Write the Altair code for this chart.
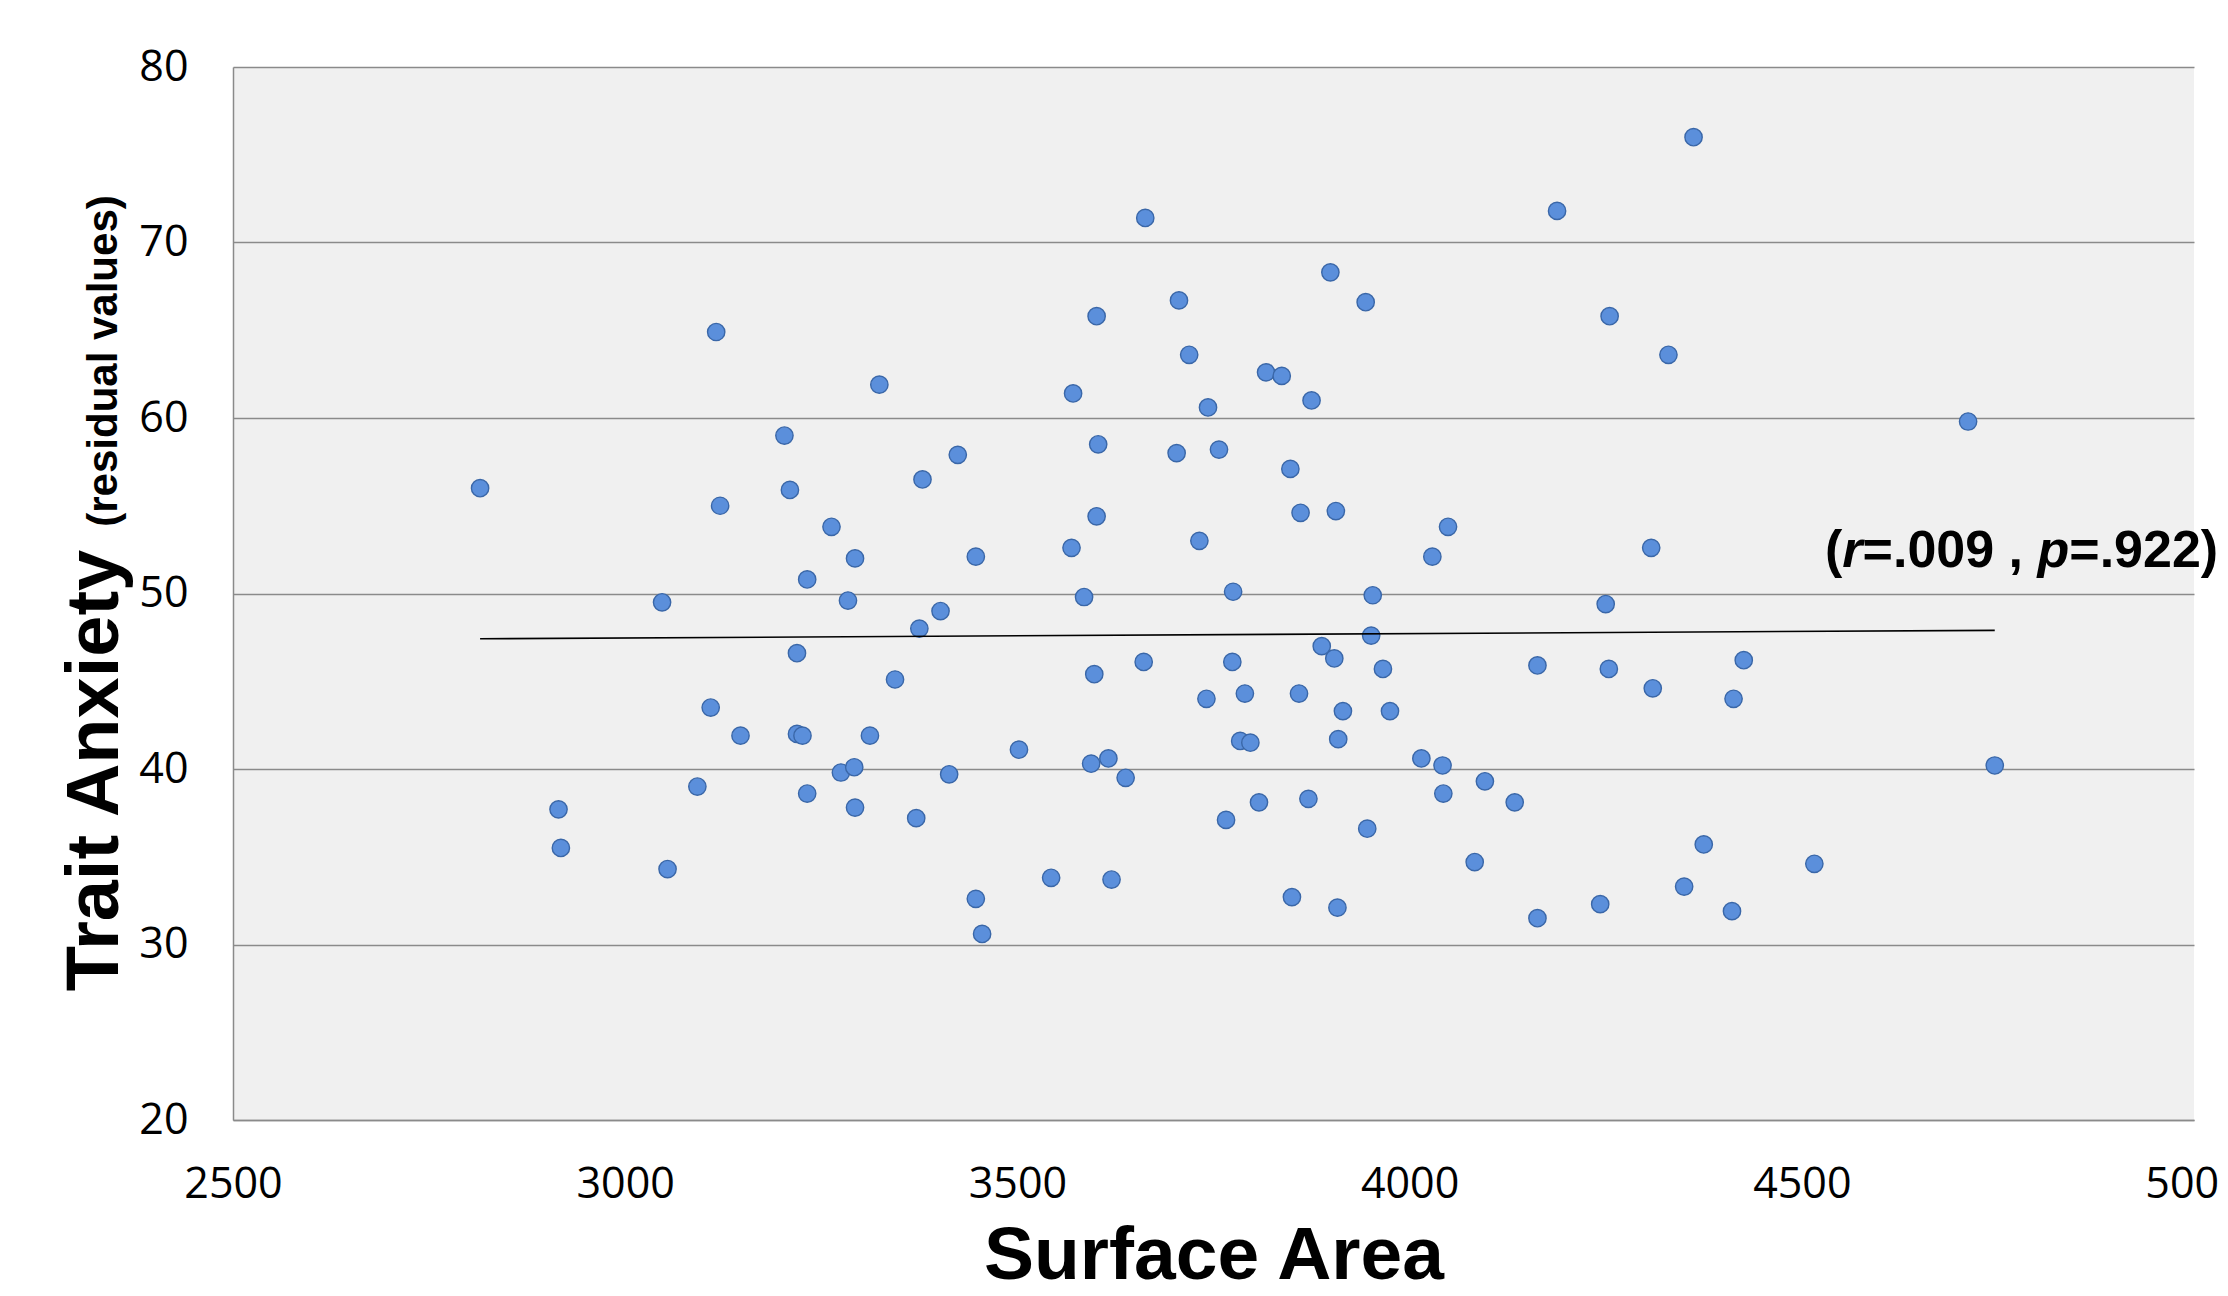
import altair as alt
import pandas as pd

# Surface Area (x) and Trait Anxiety residual values (y)
surface_area = [
    2815, 2915, 2918, 3047, 3054, 3092, 3109, 3116, 3121, 3147,
    3203, 3210, 3219, 3219, 3226, 3232, 3232, 3263, 3275, 3284,
    3292, 3293, 3293, 3312, 3324, 3344, 3371, 3375, 3379, 3402,
    3413, 3424, 3447, 3447, 3455, 3502, 3543, 3569, 3571, 3585,
    3594, 3598, 3601, 3603, 3601, 3616, 3620, 3638, 3661, 3663,
    3703, 3706, 3719, 3732, 3741, 3743, 3757, 3766, 3774, 3775,
    3784, 3790, 3797, 3808, 3817, 3837, 3848, 3850, 3859, 3861,
    3871, 3875, 3888, 3899, 3904, 3906, 3908, 3909, 3915, 3944,
    3946, 3951, 3953, 3966, 3975, 4015, 4029, 4042, 4043, 4049,
    4083, 4096, 4134, 4163, 4163, 4188, 4243, 4250, 4254, 4255,
    4308, 4310, 4330, 4350, 4362, 4375, 4411, 4413, 4426, 4516,
    4712, 4746,
]
trait_anxiety = [
    56.0, 37.7, 35.5, 49.5, 34.3, 39.0, 43.5, 64.9, 55.0, 41.9,
    59.0, 55.9, 46.6, 42.0, 41.9, 50.8, 38.6, 53.8, 39.8, 49.6,
    40.1, 52.0, 37.8, 41.9, 61.9, 45.1, 37.2, 48.0, 56.5, 49.0,
    39.7, 57.9, 32.6, 52.1, 30.6, 41.1, 33.8, 52.6, 61.4, 49.8,
    40.3, 45.4, 65.8, 58.5, 54.4, 40.6, 33.7, 39.5, 46.1, 71.4,
    58.0, 66.7, 63.6, 53.0, 44.0, 60.6, 58.2, 37.1, 46.1, 50.1,
    41.6, 44.3, 41.5, 38.1, 62.6, 62.4, 57.1, 32.7, 44.3, 54.6,
    38.3, 61.0, 47.0, 68.3, 46.3, 54.7, 32.1, 41.7, 43.3, 66.6,
    36.6, 47.6, 49.9, 45.7, 43.3, 40.6, 52.1, 40.2, 38.6, 53.8,
    34.7, 39.3, 38.1, 45.9, 31.5, 71.8, 32.3, 49.4, 45.7, 65.8,
    52.6, 44.6, 63.6, 33.3, 76.0, 35.7, 31.9, 44.0, 46.2, 34.6,
    59.8, 40.2,
]

# fitted line end points
fit_x = [2815, 4746]
fit_y = [47.42, 47.9]

x_ticks = [2500, 3000, 3500, 4000, 4500, 5000]
y_ticks = [20, 30, 40, 50, 60, 70, 80]

# annotation pieces: text, italic?, offset in em
stat_text = ["(", "r", "=.009 , ", "p", "=.922)"]
stat_italic = [False, True, False, True, False]
stat_em = [0.0, 0.333, 0.722, 4.086, 4.697]
stat_anchor_x = 4529.6
stat_anchor_y = 51.51
stat_size = 52

GRID = "#8a8a8a"
W, H = 1961, 1053

pts = pd.DataFrame({"x": surface_area, "y": trait_anxiety})
fit = pd.DataFrame({"x": fit_x, "y": fit_y})

xs = alt.Scale(domain=[2500, 5000], nice=False, zero=False)
ys = alt.Scale(domain=[20, 80], nice=False, zero=False)

x_axis = alt.Axis(
    values=x_ticks, format="d", grid=False, ticks=False, tickSize=0,
    domain=True, domainColor=GRID, domainWidth=1.5,
    labelFont="Open Sans", labelFontSize=43, labelColor="#000000",
    labelBaseline="alphabetic", labelPadding=77, labelFlush=False,
    title="Surface Area", titleFont="Liberation Sans", titleFontSize=75,
    titleFontWeight="bold", titleColor="#000000", titleBaseline="alphabetic",
    titleX=W / 2, titleY=158, titleAlign="center",
)
y_axis = alt.Axis(
    values=y_ticks, format="d", grid=True, gridColor=GRID, gridWidth=1.5,
    ticks=False, tickSize=0, domain=True, domainColor=GRID, domainWidth=1.5,
    labelFont="Open Sans", labelFontSize=43, labelColor="#000000",
    labelPadding=45, labelFlush=False,
    title="Trait Anxiety", titleFont="Liberation Sans", titleFontSize=74,
    titleFontWeight="bold", titleColor="#000000", titleAngle=270,
    titleBaseline="alphabetic", titleAlign="center", titleX=-116, titleY=703,
)

points = alt.Chart(pts).mark_point(
    shape="circle", filled=True, size=300, fill="#5b8fdb",
    stroke="#3a67a8", strokeWidth=1.4, opacity=1,
).encode(
    x=alt.X("x:Q", scale=xs, axis=x_axis),
    y=alt.Y("y:Q", scale=ys, axis=y_axis),
)

line = alt.Chart(fit).mark_line(color="#000000", strokeWidth=1.6).encode(
    x=alt.X("x:Q", scale=xs), y=alt.Y("y:Q", scale=ys)
)

layers = [points, line]
for t, it, em in zip(stat_text, stat_italic, stat_em):
    d = pd.DataFrame({"x": [stat_anchor_x], "y": [stat_anchor_y], "t": [t]})
    kw = dict(font="Liberation Sans", fontSize=stat_size, fontWeight="bold",
              color="#000000", align="left", baseline="alphabetic",
              dx=em * stat_size)
    if it:
        kw["fontStyle"] = "italic"
    layers.append(
        alt.Chart(d).mark_text(**kw).encode(
            x=alt.X("x:Q", scale=xs), y=alt.Y("y:Q", scale=ys), text="t:N"
        )
    )

resid = alt.Chart(pd.DataFrame({"t": ["(residual values)"]})).mark_text(
    font="Liberation Sans", fontSize=42, fontWeight="bold", color="#000000",
    angle=270, align="center", baseline="alphabetic",
).encode(x=alt.value(-116), y=alt.value(294), text="t:N")
layers.append(resid)

chart = alt.layer(*layers).properties(
    width=W, height=H,
    autosize=alt.AutoSizeParams(type="none"),
    padding={"left": 225, "top": 59, "right": 26, "bottom": 164},
    background="#ffffff",
).configure_view(fill="#f0f0f0", strokeWidth=0)

chart.save("out.html", embed_options={"renderer": "svg", "actions": False})
